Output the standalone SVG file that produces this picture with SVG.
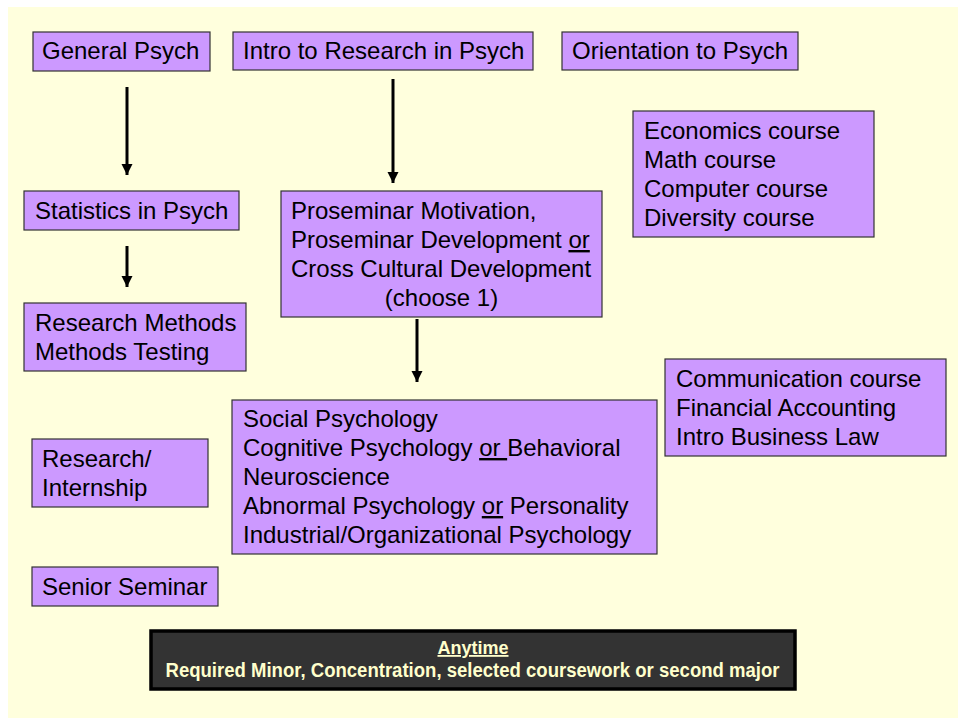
<svg xmlns="http://www.w3.org/2000/svg" width="958" height="719" viewBox="0 0 958 719">
<style>
.box{fill:#CC99FF;stroke:#333333;stroke-width:1.2}
.t{font-family:"Liberation Sans",Arial,sans-serif;font-size:24px;fill:#000}
.c{text-anchor:middle}
.u{text-decoration:underline}
.arr{stroke:#000;stroke-width:3;fill:none}
.dark{fill:#333333;stroke:#000;stroke-width:3.5}
.bt{font-family:"Liberation Sans",Arial,sans-serif;font-size:18px;font-weight:bold;fill:#FFFFCC;text-anchor:middle}
.bt2{font-size:20px}
</style>
<defs>
<marker id="ah" markerUnits="userSpaceOnUse" markerWidth="12" markerHeight="12" viewBox="0 0 12 12" refX="11" refY="6" orient="auto">
<path d="M0,0.5 L11,6 L0,11.5 Z" fill="#000"/>
</marker>
</defs>
<rect x="0" y="0" width="958" height="719" fill="#FFFFFF"/>
<rect x="8" y="7" width="950" height="711" fill="#FFFFDD"/>

<g id="connectors">
<line class="arr" x1="127" y1="87" x2="127" y2="175" marker-end="url(#ah)"/>
<line class="arr" x1="393" y1="79" x2="393" y2="183" marker-end="url(#ah)"/>
<line class="arr" x1="127" y1="246" x2="127" y2="287" marker-end="url(#ah)"/>
<line class="arr" x1="417" y1="319" x2="417" y2="382" marker-end="url(#ah)"/>
</g>

<g id="general-psych">
<rect class="box" x="33" y="32" width="177" height="39"/>
<text class="t" x="42" y="59">General Psych</text>
</g>
<g id="intro-research">
<rect class="box" x="233" y="32" width="300" height="38"/>
<text class="t" x="243" y="59">Intro to Research in Psych</text>
</g>
<g id="orientation">
<rect class="box" x="562" y="32" width="236" height="38"/>
<text class="t" x="572" y="59">Orientation to Psych</text>
</g>
<g id="statistics">
<rect class="box" x="24" y="191" width="215" height="39"/>
<text class="t" x="35" y="219">Statistics in Psych</text>
</g>
<g id="proseminar">
<rect class="box" x="281" y="191" width="321" height="126"/>
<text class="t" x="291" y="219">Proseminar Motivation,</text>
<text class="t" x="291" y="248">Proseminar Development <tspan class="u">or</tspan></text>
<text class="t" x="291" y="277">Cross Cultural Development</text>
<text class="t c" x="441.5" y="306">(choose 1)</text>
</g>
<g id="economics">
<rect class="box" x="633" y="111" width="241" height="126"/>
<text class="t" x="644" y="139">Economics course</text>
<text class="t" x="644" y="168">Math course</text>
<text class="t" x="644" y="197">Computer course</text>
<text class="t" x="644" y="226">Diversity course</text>
</g>
<g id="research-methods">
<rect class="box" x="24" y="303" width="222" height="68"/>
<text class="t" x="35" y="331">Research Methods</text>
<text class="t" x="35" y="360">Methods Testing</text>
</g>
<g id="communication">
<rect class="box" x="665" y="359" width="281" height="97"/>
<text class="t" x="676" y="387">Communication course</text>
<text class="t" x="676" y="416">Financial Accounting</text>
<text class="t" x="676" y="445">Intro Business Law</text>
</g>
<g id="social">
<rect class="box" x="232" y="400" width="425" height="154"/>
<text class="t" x="243" y="427">Social Psychology</text>
<text class="t" x="243" y="456">Cognitive Psychology <tspan class="u">or </tspan>Behavioral</text>
<text class="t" x="243" y="485">Neuroscience</text>
<text class="t" x="243" y="514">Abnormal Psychology <tspan class="u">or</tspan> Personality</text>
<text class="t" x="243" y="543">Industrial/Organizational Psychology</text>
</g>
<g id="research-internship">
<rect class="box" x="32" y="439" width="176" height="68"/>
<text class="t" x="42" y="467">Research/</text>
<text class="t" x="42" y="496">Internship</text>
</g>
<g id="senior-seminar">
<rect class="box" x="32" y="567" width="186" height="39"/>
<text class="t" x="42" y="595">Senior Seminar</text>
</g>
<g id="anytime">
<rect class="dark" x="151" y="631" width="644" height="58"/>
<text class="bt u" x="473" y="654">Anytime</text>
<text class="bt bt2" x="472.5" y="677" textLength="614" lengthAdjust="spacingAndGlyphs">Required Minor, Concentration, selected coursework or second major</text>
</g>
</svg>
